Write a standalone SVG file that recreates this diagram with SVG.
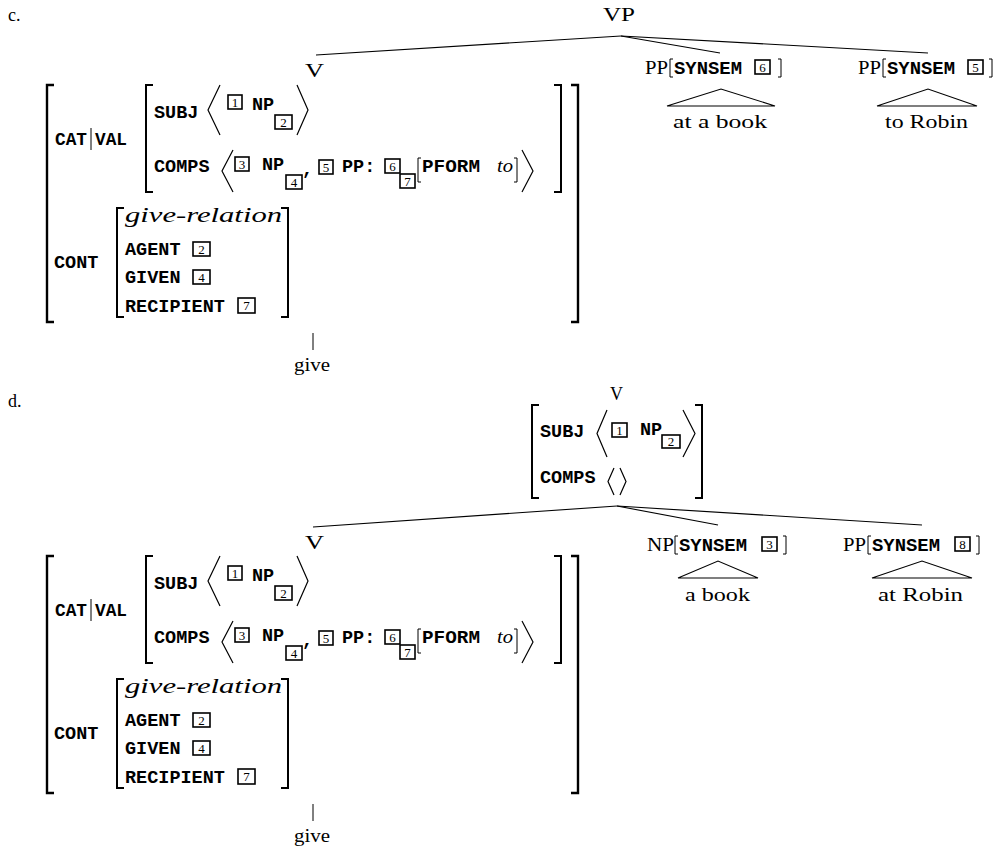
<svg xmlns="http://www.w3.org/2000/svg" width="995" height="853" viewBox="0 0 995 853">
<style>
.bg{fill:#fff}
.lbl{font-family:"Liberation Serif",serif;font-size:18px;fill:#000}
.it{font-family:"Liberation Serif",serif;font-style:italic;fill:#000}
.ft{font-family:"Liberation Mono",monospace;font-weight:bold;font-size:18.5px;fill:#000}
.dg{font-family:"Liberation Serif",serif;font-size:13px;fill:#000;text-anchor:middle}
.tag{fill:none;stroke:#000;stroke-width:1.6}
.bk{fill:none;stroke:#000;stroke-width:2.4}
.bk2{fill:none;stroke:#000;stroke-width:2}
.sb{fill:none;stroke:#000;stroke-width:1}
.ang{fill:none;stroke:#000;stroke-width:1.2}
.edge{fill:none;stroke:#000;stroke-width:1.1}
</style>
<defs>
<g id="avm">
  <path class="bk" d="M54,85 H47 V322 H54"/>
  <path class="bk" d="M571,85 H578 V322 H571"/>
  <text class="ft" x="55" y="145" textLength="32" lengthAdjust="spacingAndGlyphs">CAT</text>
  <line class="sb" x1="91" y1="128" x2="91" y2="150"/>
  <text class="ft" x="95" y="145" textLength="32" lengthAdjust="spacingAndGlyphs">VAL</text>
  <path class="bk2" d="M153,85 H146 V192 H153"/>
  <path class="bk2" d="M554,85 H561 V192 H554"/>
  <text class="ft" x="154" y="118">SUBJ</text>
  <polyline class="ang" points="220,85 208,110 220,135"/>
  <rect class="tag" x="228" y="95" width="14" height="14"/><text class="dg" x="235" y="106.5">1</text>
  <text class="ft" x="252" y="110">NP</text>
  <rect class="tag" x="275" y="115" width="17" height="14"/><text class="dg" x="283.5" y="126.5">2</text>
  <polyline class="ang" points="297,85 308,110 297,135"/>
  <text class="ft" x="154" y="172">COMPS</text>
  <polyline class="ang" points="233,150 222,171 233,192"/>
  <rect class="tag" x="235" y="157" width="14" height="14"/><text class="dg" x="242" y="168.5">3</text>
  <text class="ft" x="262" y="170">NP</text>
  <rect class="tag" x="286" y="175" width="16" height="14"/><text class="dg" x="294" y="186.5">4</text>
  <text class="ft" x="302" y="175">,</text>
  <rect class="tag" x="319" y="160" width="14" height="14"/><text class="dg" x="326" y="171.5">5</text>
  <text class="ft" x="342" y="172">PP:</text>
  <rect class="tag" x="385" y="159" width="15" height="14"/><text class="dg" x="392.5" y="170.5">6</text>
  <rect class="tag" x="400" y="174" width="15" height="14"/><text class="dg" x="407.5" y="185.5">7</text>
  <path class="sb" d="M421,158 H418 V182 H421"/>
  <text class="ft" x="422" y="172" textLength="58" lengthAdjust="spacingAndGlyphs">PFORM</text>
  <text class="it" x="497" y="172" font-size="18" textLength="16" lengthAdjust="spacingAndGlyphs">to</text>
  <path class="sb" d="M514,158 H517 V182 H514"/>
  <polyline class="ang" points="522,150 533,171 522,192"/>
  <text class="ft" x="54" y="268">CONT</text>
  <path class="bk2" d="M124,208 H117 V317 H124"/>
  <path class="bk2" d="M281,208 H288 V317 H281"/>
  <text class="it" x="125" y="222" font-size="21" textLength="157" lengthAdjust="spacingAndGlyphs">give-relation</text>
  <text class="ft" x="125" y="255">AGENT</text>
  <rect class="tag" x="193" y="242" width="17" height="14"/><text class="dg" x="201.5" y="253.5">2</text>
  <text class="ft" x="125" y="283">GIVEN</text>
  <rect class="tag" x="193" y="270" width="17" height="14"/><text class="dg" x="201.5" y="281.5">4</text>
  <text class="ft" x="125" y="312">RECIPIENT</text>
  <rect class="tag" x="238" y="298" width="17" height="15"/><text class="dg" x="246.5" y="310">7</text>
  <line class="sb" x1="313" y1="333" x2="313" y2="350"/>
  <text class="lbl" x="294" y="371" textLength="36" lengthAdjust="spacingAndGlyphs">give</text>
</g>
</defs>
<rect class="bg" x="0" y="0" width="995" height="853"/>

<text id="label-c" class="lbl" x="8" y="21" font-size="16">c.</text>

<g id="c-VP">
  <text class="lbl" x="603" y="21" textLength="32" lengthAdjust="spacingAndGlyphs">VP</text>
</g>

<g id="c-V">
  <text class="lbl" x="305" y="77" textLength="19" lengthAdjust="spacingAndGlyphs">V</text>
  <use href="#avm"/>
</g>

<g id="c-PP6">
  <text class="lbl" x="645" y="74" textLength="23" lengthAdjust="spacingAndGlyphs">PP</text>
  <path class="sb" d="M673,59 H670 V77 H673"/>
  <text class="ft" x="674" y="74" textLength="68" lengthAdjust="spacingAndGlyphs">SYNSEM</text>
  <rect class="tag" x="755" y="60" width="15" height="14"/><text class="dg" x="762.5" y="71.5">6</text>
  <path class="sb" d="M778,59 H781 V77 H778"/>
  <polygon class="edge" points="667,106 721,89 775,106"/>
  <text class="lbl" x="673" y="128" textLength="94" lengthAdjust="spacingAndGlyphs">at a book</text>
</g>

<g id="c-PP5">
  <text class="lbl" x="858" y="74" textLength="23" lengthAdjust="spacingAndGlyphs">PP</text>
  <path class="sb" d="M886,59 H883 V77 H886"/>
  <text class="ft" x="887" y="74" textLength="68" lengthAdjust="spacingAndGlyphs">SYNSEM</text>
  <rect class="tag" x="968" y="60" width="15" height="14"/><text class="dg" x="975.5" y="71.5">5</text>
  <path class="sb" d="M989,59 H992 V77 H989"/>
  <polygon class="edge" points="877,106 928,89 977,106"/>
  <text class="lbl" x="885" y="128" textLength="83" lengthAdjust="spacingAndGlyphs">to Robin</text>
</g>

<text id="label-d" class="lbl" x="8" y="407" font-size="16">d.</text>

<g id="d-Vtop">
  <text class="lbl" x="610" y="400" textLength="13" lengthAdjust="spacingAndGlyphs">V</text>
  <path class="bk2" d="M539,405 H532 V498 H539"/>
  <path class="bk2" d="M695,405 H702 V498 H695"/>
  <text class="ft" x="540" y="437">SUBJ</text>
  <polyline class="ang" points="607,410 597,433.5 607,457"/>
  <rect class="tag" x="612" y="423" width="15" height="14"/><text class="dg" x="619.5" y="434.5">1</text>
  <text class="ft" x="640" y="435">NP</text>
  <rect class="tag" x="662" y="435" width="18" height="13"/><text class="dg" x="671" y="446">2</text>
  <polyline class="ang" points="683,410 695,433.5 683,457"/>
  <text class="ft" x="540" y="483">COMPS</text>
  <polyline class="ang" points="614,468 608,481.5 614,495"/>
  <polyline class="ang" points="620,468 626,481.5 620,495"/>
</g>

<g id="d-V">
  <text class="lbl" x="305" y="549" textLength="19" lengthAdjust="spacingAndGlyphs">V</text>
  <use href="#avm" transform="translate(0,471)"/>
</g>

<g id="d-NP3">
  <text class="lbl" x="647" y="551" textLength="27" lengthAdjust="spacingAndGlyphs">NP</text>
  <path class="sb" d="M678,536 H675 V554 H678"/>
  <text class="ft" x="679" y="551" textLength="68" lengthAdjust="spacingAndGlyphs">SYNSEM</text>
  <rect class="tag" x="762" y="537" width="15" height="14"/><text class="dg" x="769.5" y="548.5">3</text>
  <path class="sb" d="M783,536 H786 V554 H783"/>
  <polygon class="edge" points="678,578 718,561 758,578"/>
  <text class="lbl" x="685" y="601" textLength="65" lengthAdjust="spacingAndGlyphs">a book</text>
</g>

<g id="d-PP8">
  <text class="lbl" x="843" y="551" textLength="23" lengthAdjust="spacingAndGlyphs">PP</text>
  <path class="sb" d="M871,536 H868 V554 H871"/>
  <text class="ft" x="872" y="551" textLength="68" lengthAdjust="spacingAndGlyphs">SYNSEM</text>
  <rect class="tag" x="955" y="537" width="15" height="14"/><text class="dg" x="962.5" y="548.5">8</text>
  <path class="sb" d="M976,536 H979 V554 H976"/>
  <polygon class="edge" points="872,578 922,561 972,578"/>
  <text class="lbl" x="878" y="601" textLength="85" lengthAdjust="spacingAndGlyphs">at Robin</text>
</g>

<g id="connectors">
  <line class="edge" x1="621" y1="36" x2="316" y2="55"/>
  <line class="edge" x1="621" y1="36" x2="720" y2="53"/>
  <line class="edge" x1="621" y1="36" x2="928" y2="53"/>
  <line class="edge" x1="617" y1="506" x2="313" y2="527"/>
  <line class="edge" x1="617" y1="506" x2="718" y2="525"/>
  <line class="edge" x1="617" y1="506" x2="922" y2="525"/>
</g>
</svg>
